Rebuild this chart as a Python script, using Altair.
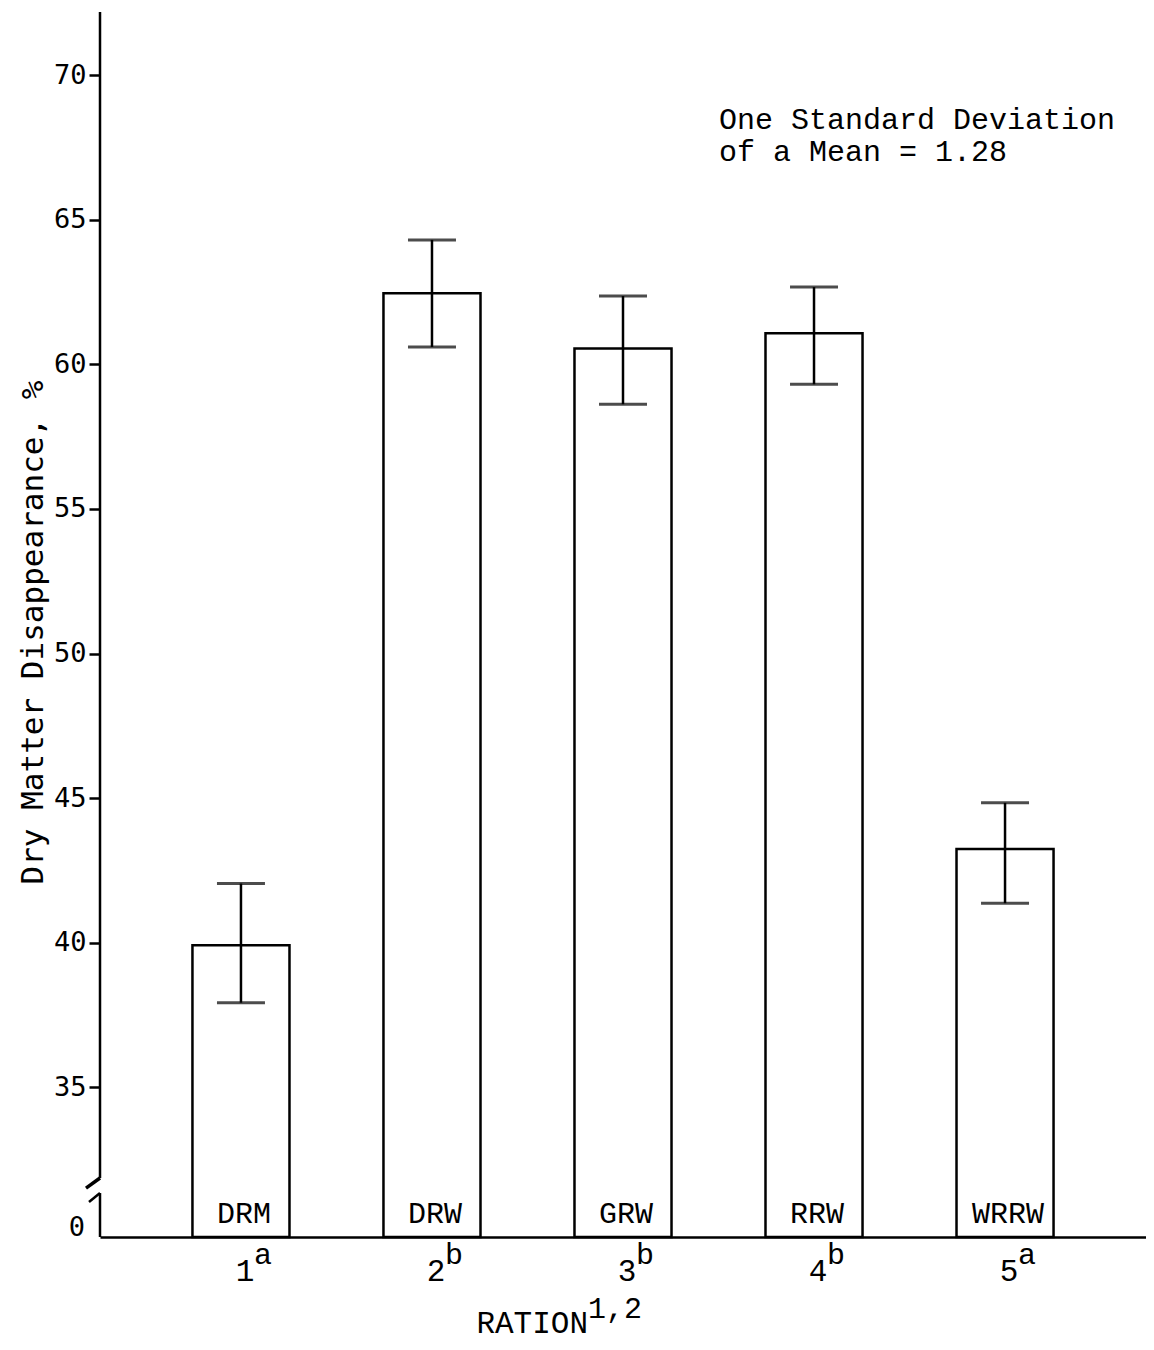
import altair as alt
import pandas as pd

# ---- data ----
rations = ["1", "2", "3", "4", "5"]
letters = ["a", "b", "b", "b", "a"]
codes = ["DRM", "DRW", "GRW", "RRW", "WRRW"]
means = [39.92, 62.46, 60.55, 61.07, 43.24]
upper = [42.05, 64.30, 62.36, 62.67, 44.84]
lower = [37.93, 60.60, 58.62, 59.31, 41.37]
y_ticks = [35, 40, 45, 50, 55, 60, 65, 70]
y_min, y_max = 29.83, 72.18
break_hi, break_lo = 31.87, 31.35
note_lines = ["One Standard Deviation", "of a Mean = 1.28"]
y_title = "Dry Matter Disappearance, %"
x_title = "RATION"
x_title_sup = "1,2"

df = pd.DataFrame({
    "ration": rations,
    "letter": letters,
    "code": codes,
    "mean": means,
    "upper": upper,
    "lower": lower,
})
df["base"] = y_min
df["label_y"] = y_min + 0.48

W, H = 1046, 1225
MONO = "Liberation Mono"
SANSMONO = "DejaVu Sans Mono"

y_scale = alt.Scale(domain=[y_min, y_max], nice=False, zero=False)
yaxis = alt.Axis(
    values=y_ticks, domain=False, grid=False,
    tickSize=11, tickWidth=2.5, tickColor="black",
    labelFont=SANSMONO, labelFontSize=27, labelColor="black", labelPadding=3,
    titleFont=SANSMONO, titleFontSize=31, titleFontWeight="normal",
    titleColor="black", titleX=-58, titleY=620, titleAngle=-90,
    titleBaseline="alphabetic", titleAlign="center",
)


def Y(field):
    return alt.Y(field, scale=y_scale, axis=yaxis, title=y_title)


def Y2(field):
    return alt.Y2(field, title=y_title)


x = alt.X(
    "ration:N", sort=rations,
    scale=alt.Scale(paddingInner=0.492, paddingOuter=0.484),
    axis=alt.Axis(labels=False, ticks=False, title=None, grid=False,
                  domainColor="black", domainWidth=2.5),
)

base = alt.Chart(df)

bars = base.mark_bar(fill="white", stroke="black", strokeWidth=2.5).encode(
    x=x, y=Y("mean:Q"), y2=Y2("base:Q")
)
err = base.mark_rule(color="black", strokeWidth=2.5).encode(
    x=x, y=Y("lower:Q"), y2=Y2("upper:Q")
)
cap_hi = base.mark_tick(color="black", thickness=3, size=48, orient="horizontal").encode(
    x=x, y=Y("upper:Q")
)
cap_lo = base.mark_tick(color="black", thickness=3, size=48, orient="horizontal").encode(
    x=x, y=Y("lower:Q")
)
code_txt = base.mark_text(font=MONO, fontSize=30, baseline="alphabetic",
                          align="center", color="black", dx=3).encode(
    x=x, y=Y("label_y:Q"), text="code:N"
)
num_txt = base.mark_text(font=MONO, fontSize=31, baseline="alphabetic",
                         align="center", color="black", dx=4).encode(
    x=x, y=alt.value(H + 44), text="ration:N"
)
sup_txt = base.mark_text(font=MONO, fontSize=30, baseline="alphabetic",
                         align="left", color="black", dx=13).encode(
    x=x, y=alt.value(H + 27), text="letter:N"
)

# y axis line with a break
axis_df = pd.DataFrame({"y1": [break_hi, y_min], "y2": [y_max, break_lo]})
axis_line = alt.Chart(axis_df).mark_rule(color="black", strokeWidth=2.5).encode(
    x=alt.value(0), y=Y("y1:Q"), y2=Y2("y2:Q")
)
slash_df1 = pd.DataFrame({"y1": [break_hi], "y2": [31.52]})
slash1 = alt.Chart(slash_df1).mark_rule(color="black", strokeWidth=3.5).encode(
    x=alt.value(0), x2=alt.value(-14), y=Y("y1:Q"), y2=Y2("y2:Q")
)
slash_df2 = pd.DataFrame({"y1": [break_lo], "y2": [31.04]})
slash2 = alt.Chart(slash_df2).mark_rule(color="black", strokeWidth=2.5).encode(
    x=alt.value(0), x2=alt.value(-11), y=Y("y1:Q"), y2=Y2("y2:Q")
)
zero_lbl = alt.Chart(pd.DataFrame({"t": ["0"]})).mark_text(
    font=SANSMONO, fontSize=27, align="right", baseline="alphabetic", color="black"
).encode(x=alt.value(-15), y=alt.value(H - 1), text="t:N")

# annotation
note1 = alt.Chart(pd.DataFrame({"t": [note_lines[0]]})).mark_text(
    font=MONO, fontSize=30, align="left", baseline="alphabetic", color="black"
).encode(x=alt.value(619), y=alt.value(117), text="t:N")
note2 = alt.Chart(pd.DataFrame({"t": [note_lines[1]]})).mark_text(
    font=MONO, fontSize=30, align="left", baseline="alphabetic", color="black"
).encode(x=alt.value(619), y=alt.value(149), text="t:N")

# x title with superscript
xt = alt.Chart(pd.DataFrame({"t": [x_title]})).mark_text(
    font=MONO, fontSize=31, align="right", baseline="alphabetic", color="black"
).encode(x=alt.value(488), y=alt.value(H + 96), text="t:N")
xt_sup = alt.Chart(pd.DataFrame({"t": [x_title_sup]})).mark_text(
    font=MONO, fontSize=30, align="left", baseline="alphabetic", color="black"
).encode(x=alt.value(488), y=alt.value(H + 81), text="t:N")

chart = alt.layer(
    bars, err, cap_hi, cap_lo, code_txt, num_txt, sup_txt,
    axis_line, slash1, slash2, zero_lbl, note1, note2, xt, xt_sup,
).properties(
    width=W, height=H,
    autosize=alt.AutoSizeParams(type="none"),
    padding={"left": 92, "top": 4, "right": 0, "bottom": 105},
    background="white",
).configure_view(stroke=None)

chart.save("out.html", embed_options={"renderer": "svg", "actions": False})
